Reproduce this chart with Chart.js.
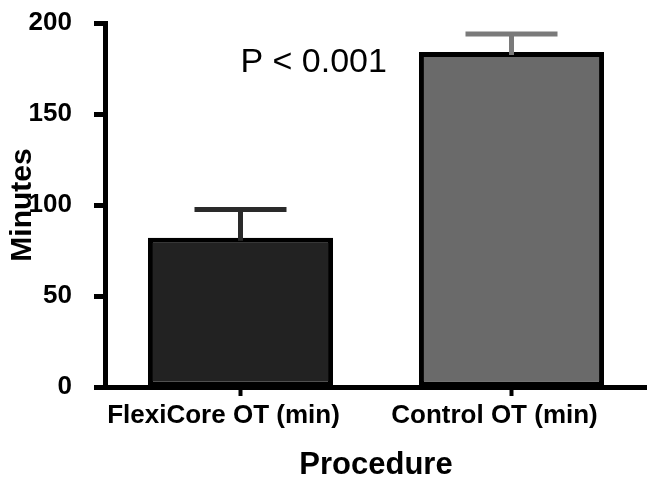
<!DOCTYPE html>
<html>
<head>
<meta charset="utf-8">
<script src="https://cdn.jsdelivr.net/npm/chart.js@4.4.1/dist/chart.umd.min.js"></script>
<style>
    html, body { margin: 0; padding: 0; background: #fff; }
    #chart { display: block; }
</style>
</head>
<body>
<canvas id="chart" width="647" height="481"></canvas>
<script>
// DATA
const categories = ['FlexiCore OT (min)', 'Control OT (min)'];
const meanMinutes = [82, 184];
const sdMinutes = [15.5, 10];
const barColors = ['#222222', '#6a6a6a'];
const errorColors = ['#2a2a2a', '#7a7a7a'];
const yTicks = [0, 50, 100, 150, 200];
const pValueText = 'P < 0.001';

const FONT = "'Liberation Sans', Arial, sans-serif";

// error bars (upper only, like the figure)
const errorBars = {
    id: 'errorBars',
    afterDatasetsDraw(chart) {
        const ctx = chart.ctx;
        const y = chart.scales.y;
        const meta = chart.getDatasetMeta(0);
        ctx.save();
        ctx.lineWidth = 5;
        meta.data.forEach((bar, i) => {
            const top = y.getPixelForValue(meanMinutes[i] + sdMinutes[i]);
            const base = y.getPixelForValue(meanMinutes[i]);
            ctx.strokeStyle = errorColors[i];
            ctx.beginPath();
            ctx.moveTo(bar.x, base + 3);
            ctx.lineTo(bar.x, top);
            ctx.moveTo(bar.x - 46, top);
            ctx.lineTo(bar.x + 46, top);
            ctx.stroke();
        });
        ctx.restore();
    }
};

// p-value annotation
const pLabel = {
    id: 'pLabel',
    afterDraw(chart) {
        const ctx = chart.ctx;
        const x = chart.scales.x;
        const y = chart.scales.y;
        const px = x.getPixelForValue(0) + (x.getPixelForValue(1) - x.getPixelForValue(0)) * 0.27;
        ctx.save();
        ctx.font = '34px ' + FONT;
        ctx.fillStyle = '#000';
        ctx.textAlign = 'center';
        ctx.textBaseline = 'alphabetic';
        ctx.fillText(pValueText, px, y.getPixelForValue(173));
        ctx.restore();
    }
};

new Chart(document.getElementById('chart').getContext('2d'), {
    type: 'bar',
    data: {
        labels: categories,
        datasets: [{
            data: meanMinutes,
            backgroundColor: barColors,
            borderColor: '#000',
            borderWidth: 5,
            borderSkipped: false,
            barPercentage: 0.683,
            categoryPercentage: 1
        }]
    },
    options: {
        responsive: false,
        animation: false,
        layout: { padding: { top: 23, right: 0, bottom: 0, left: 0 } },
        plugins: { legend: { display: false }, tooltip: { enabled: false } },
        scales: {
            x: {
                grid: { offset: false, drawOnChartArea: false, tickLength: 9, tickWidth: 4, tickColor: '#000' },
                border: { display: true, color: '#000', width: 5 },
                ticks: { color: '#000', padding: 4, labelOffset: -17, font: { family: FONT, size: 26, weight: 'bold' } },
                title: { display: true, text: 'Procedure', color: '#000', padding: 0, font: { family: FONT, size: 31, weight: 'bold', lineHeight: 1 } },
                afterFit: s => { s.height = 94; }
            },
            y: {
                min: 0,
                max: 200,
                afterBuildTicks: s => { s.ticks = yTicks.map(v => ({ value: v })); },
                grid: { drawOnChartArea: false, tickLength: 11, tickWidth: 5, tickColor: '#000' },
                border: { display: true, color: '#000', width: 5 },
                ticks: { color: '#000', padding: 22, font: { family: FONT, size: 26, weight: 'bold' } },
                title: { display: true, text: 'Minutes', color: '#000', padding: { top: 8, bottom: 0 }, font: { family: FONT, size: 30, weight: 'bold', lineHeight: 1 } },
                afterFit: s => { s.width = 105; s.paddingTop = 0; s.paddingBottom = 0; }
            }
        }
    },
    plugins: [errorBars, pLabel]
});
</script>
</body>
</html>
